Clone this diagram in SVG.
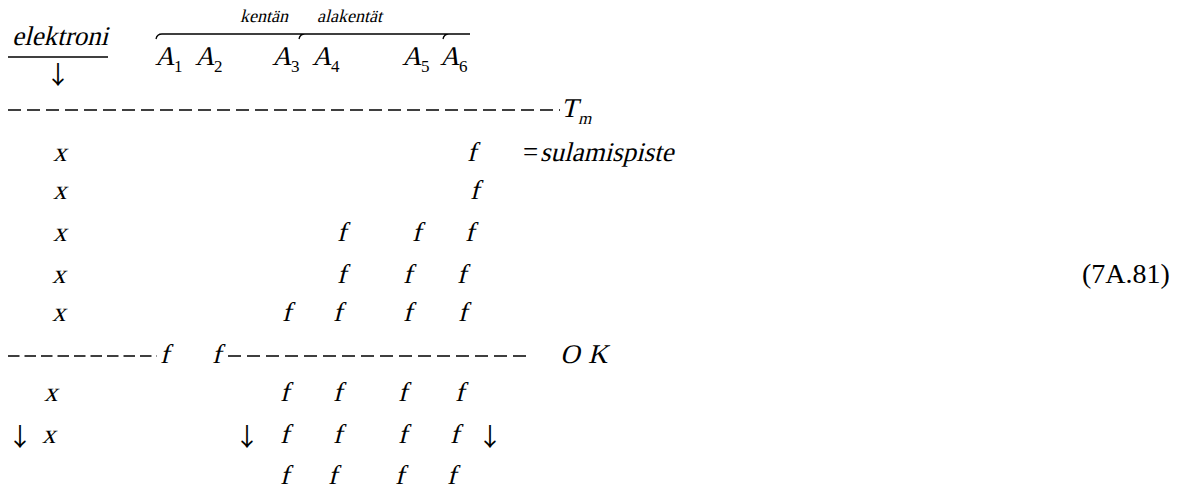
<svg xmlns="http://www.w3.org/2000/svg" width="1190" height="490" viewBox="0 0 1190 490">
<style>
text{font-family:"Liberation Serif","Times New Roman",serif;fill:#000}
.i,.s,.m{transform-box:fill-box;transform-origin:0 80%;transform:skewX(-14deg)}
.i{font-size:27px}
.s{font-size:18px}
.m{font-size:17px}
.sub{font-size:17px}
.r{font-size:27px}
.ar{font-family:"Noto Sans CJK SC","DejaVu Sans",sans-serif;font-size:25px;text-anchor:middle}
.d1{stroke:#000;stroke-width:1.3;stroke-dasharray:13 6;fill:none}
.d2{stroke:#000;stroke-width:1.3;stroke-dasharray:11.5 5;fill:none}
.ln{stroke:#000;stroke-width:1.3;fill:none}
</style>
<rect width="1190" height="490" fill="#fff"/>
<g id="header">
<text class="i" x="12" y="45">elektroni</text>
<line class="ln" x1="8" y1="57" x2="108" y2="57"/>
<text class="ar" x="58" y="84">↓</text>
<text class="s" x="240" y="22">kentän</text>
<text class="s" x="317" y="22">alakentät</text>
<path class="ln" d="M156,39 Q157,34 162,34 L470,34 M299,39 Q300,34 305,34 M443,39 Q444,34 449,34"/>
<text class="i" x="155" y="65">A</text><text class="sub" x="174" y="72">1</text>
<text class="i" x="195" y="65">A</text><text class="sub" x="214" y="72">2</text>
<text class="i" x="272" y="65">A</text><text class="sub" x="291" y="72">3</text>
<text class="i" x="312" y="65">A</text><text class="sub" x="331" y="72">4</text>
<text class="i" x="402" y="65">A</text><text class="sub" x="421" y="72">5</text>
<text class="i" x="440" y="65">A</text><text class="sub" x="459" y="72">6</text>
</g>
<g id="lines">
<line class="d1" x1="8" y1="110" x2="560" y2="110"/>
<line class="d2" x1="8" y1="356" x2="157" y2="356"/>
<line class="d1" x1="228" y1="356" x2="530" y2="356"/>
</g>
<g id="rows">
<text class="i" x="561" y="117">T</text><text class="m" x="578" y="124">m</text>
<text class="i" x="53" y="161">x</text><text class="i" x="467" y="161">f</text><text class="r" x="523" y="161">=</text><text class="i" x="540" y="161">sulamispiste</text>
<text class="i" x="53" y="199">x</text><text class="i" x="470" y="199">f</text>
<text class="i" x="53" y="241">x</text><text class="i" x="337" y="241">f</text><text class="i" x="412" y="241">f</text><text class="i" x="465" y="241">f</text>
<text class="i" x="52" y="283">x</text><text class="i" x="337" y="283">f</text><text class="i" x="403" y="283">f</text><text class="i" x="457" y="283">f</text>
<text class="i" x="52" y="321">x</text><text class="i" x="282" y="321">f</text><text class="i" x="333" y="321">f</text><text class="i" x="403" y="321">f</text><text class="i" x="458" y="321">f</text>
<text class="i" x="160" y="363">f</text><text class="i" x="212" y="363">f</text><text class="i" x="560" y="363">O</text><text class="i" x="588" y="363">K</text>
<text class="i" x="44" y="401">x</text><text class="i" x="280" y="401">f</text><text class="i" x="333" y="401">f</text><text class="i" x="398" y="401">f</text><text class="i" x="455" y="401">f</text>
<text class="ar" x="20" y="446">↓</text><text class="i" x="42" y="443">x</text><text class="ar" x="247" y="446">↓</text><text class="i" x="280" y="443">f</text><text class="i" x="333" y="443">f</text><text class="i" x="398" y="443">f</text><text class="i" x="450" y="443">f</text><text class="ar" x="490" y="446">↓</text>
<text class="i" x="280" y="484">f</text><text class="i" x="328" y="484">f</text><text class="i" x="395" y="484">f</text><text class="i" x="447" y="484">f</text>
</g>
<g id="label">
<text class="r" x="1082" y="283" style="font-size:28px">(7A.81)</text>
</g>
</svg>
